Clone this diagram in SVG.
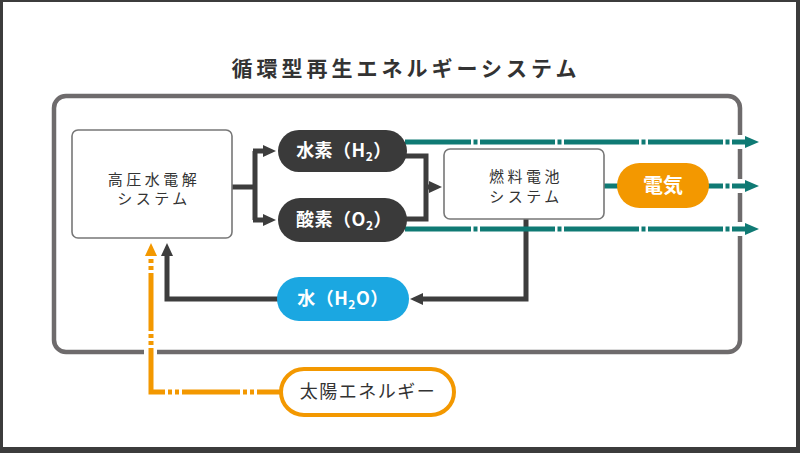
<svg xmlns="http://www.w3.org/2000/svg" width="800" height="453" viewBox="0 0 800 453">
<style>
text{font-family:"Noto Sans CJK JP","Noto Sans",sans-serif;}
.box{fill:#fff;stroke:#777;stroke-width:1.6;}
.btxt{font-size:15px;fill:#333;letter-spacing:3.5px;text-anchor:middle;}
.ptxt{font-size:18px;fill:#fff;font-weight:bold;text-anchor:middle;letter-spacing:0.5px;}
.dark{fill:none;stroke:#3d3d3d;stroke-width:5;}
.teal{fill:none;stroke:#0f7a74;stroke-width:5;stroke-dasharray:75 2.5 4 2.5;}
.orange{fill:none;stroke:#f39800;stroke-width:5;}
</style>
<defs>
<marker id="ad" markerUnits="userSpaceOnUse" viewBox="0 -6 13 12" refX="2" refY="0" markerWidth="13" markerHeight="12" orient="auto"><path d="M0,-6 L13,0 L0,6 z" fill="#3d3d3d"/></marker>
<marker id="at" markerUnits="userSpaceOnUse" viewBox="0 -6 14 12" refX="2" refY="0" markerWidth="14" markerHeight="12" orient="auto"><path d="M0,-6 L14,0 L0,6 z" fill="#0f7a74"/></marker>
<marker id="ao" markerUnits="userSpaceOnUse" viewBox="0 -6 13 12" refX="2" refY="0" markerWidth="13" markerHeight="12" orient="auto"><path d="M0,-6 L13,0 L0,6 z" fill="#f39800"/></marker>
</defs>
<rect x="0" y="0" width="800" height="453" fill="#3c3c3c"/>
<rect x="3" y="2" width="793" height="445" fill="#fff"/>
<text x="406" y="76" font-size="21" font-weight="bold" fill="#333" text-anchor="middle" letter-spacing="4">循環型再生エネルギーシステム</text>
<g id="frame">
<rect x="54" y="96" width="686" height="256" rx="12" fill="none" stroke="#6e6b6c" stroke-width="4.5"/>
<rect x="734" y="135" width="12" height="14" fill="#fff"/>
<rect x="734" y="179" width="12" height="14" fill="#fff"/>
<rect x="734" y="222" width="12" height="14" fill="#fff"/>
<rect x="144" y="347" width="13" height="10" fill="#fff"/>
</g>
<g id="connectors">
<path class="dark" d="M232,187 H255 M255,151 V220" />
<path class="dark" d="M253,151 H265" marker-end="url(#ad)"/>
<path class="dark" d="M253,220 H265" marker-end="url(#ad)"/>
<path class="dark" d="M400,156 H426 V219 H400"/>
<path class="dark" d="M426,187 H431" marker-end="url(#ad)"/>
<path class="dark" d="M526,219 V299 H421" marker-end="url(#ad)"/>
<path class="dark" d="M280,299 H167 V254" marker-end="url(#ad)"/>
<path class="teal" stroke-dashoffset="9" d="M405,142 H747" marker-end="url(#at)"/>
<path class="teal" stroke-dashoffset="40" d="M604,186 H747" marker-end="url(#at)"/>
<path class="teal" stroke-dashoffset="9" d="M405,229 H747" marker-end="url(#at)"/>
<path class="orange" stroke-dasharray="58 3 4 3 4 3" stroke-dashoffset="33" d="M282,392 H151 V254" marker-end="url(#ao)"/>
</g>
<g id="electrolysis">
<rect class="box" x="72" y="130" width="160" height="108" rx="6"/>
<text class="btxt" x="154" y="185">高圧水電解</text>
<text class="btxt" x="154" y="204">システム</text>
</g>
<g id="hydrogen">
<rect x="278" y="130" width="129" height="42" rx="21" fill="#3a3a3a"/>
<text class="ptxt" x="344" y="157">水素（H<tspan font-size="12" dy="4">2</tspan><tspan dy="-4">）</tspan></text>
</g>
<g id="oxygen">
<rect x="278" y="198" width="129" height="44" rx="22" fill="#3a3a3a"/>
<text class="ptxt" x="344" y="226">酸素（O<tspan font-size="12" dy="4">2</tspan><tspan dy="-4">）</tspan></text>
</g>
<g id="fuelcell">
<rect class="box" x="444" y="149" width="160" height="70" rx="6"/>
<text class="btxt" x="526" y="182">燃料電池</text>
<text class="btxt" x="526" y="202">システム</text>
</g>
<g id="electricity">
<rect x="617" y="163" width="92" height="45" rx="22.5" fill="#f39800"/>
<text x="663" y="193" font-size="20" font-weight="bold" fill="#fff" text-anchor="middle">電気</text>
</g>
<g id="water">
<rect x="277" y="277" width="132" height="44" rx="22" fill="#1ba7e1"/>
<text class="ptxt" x="343" y="305">水（H<tspan font-size="12" dy="4">2</tspan><tspan dy="-4">O）</tspan></text>
</g>
<g id="solar">
<rect x="281" y="369" width="173" height="46" rx="23" fill="#fff" stroke="#f39800" stroke-width="4"/>
<text x="368" y="398" font-size="18" fill="#333" text-anchor="middle" letter-spacing="1.5">太陽エネルギー</text>
</g>
</svg>
